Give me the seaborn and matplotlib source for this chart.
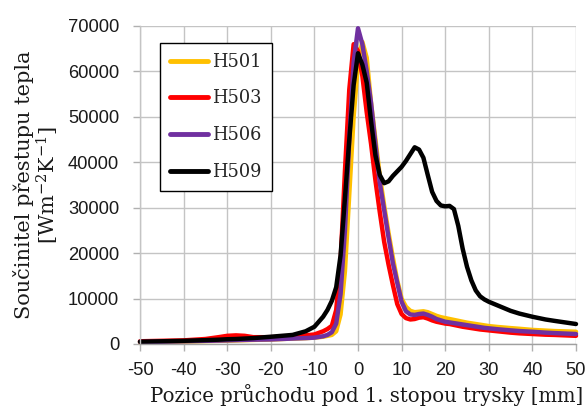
import numpy as np
import pandas as pd
import matplotlib
matplotlib.use("Agg")
import matplotlib.pyplot as plt
import seaborn as sns

# ---- data ----
x_mm = [-50, -45, -40, -35, -32, -30, -28, -26, -24, -20,
        -15, -12, -10, -8, -7, -6, -5, -4, -3, -2,
        -1, 0, 1, 2, 3, 4, 5, 6, 7, 8,
        9, 10, 11, 12, 13, 14, 15, 16, 17, 18,
        19, 20, 21, 22, 23, 24, 25, 26, 27, 28,
        29, 30, 32, 35, 37, 40, 43, 45, 50]

h501 = [400, 450, 550, 650, 700, 750, 800, 850, 900, 1000,
        1200, 1300, 1400, 1600, 1800, 2000, 2800, 6500, 16000, 33000,
        50000, 62000, 66500, 63000, 53000, 45000, 37000, 30500, 24500, 19000,
        14000, 10000, 8200, 7300, 7000, 7100, 7200, 7000, 6600, 6200,
        5900, 5700, 5500, 5300, 5100, 4900, 4700, 4550, 4400, 4250,
        4100, 3950, 3750, 3500, 3350, 3100, 2950, 2850, 2700]

h503 = [600, 700, 800, 1100, 1500, 1800, 1900, 1800, 1500, 1500,
        1600, 1900, 2100, 2800, 3300, 4000, 7500, 18000, 38000, 56000,
        66000, 64500, 59000, 51000, 44000, 36000, 29000, 22500, 17500, 13000,
        8800, 6600, 5700, 5400, 5500, 5800, 5900, 5600, 5200, 4900,
        4700, 4500, 4400, 4200, 4000, 3800, 3650, 3500, 3350, 3200,
        3100, 3000, 2800, 2500, 2350, 2200, 2050, 2000, 1800]

h506 = [450, 500, 600, 700, 750, 800, 850, 900, 950, 1000,
        1200, 1300, 1400, 1700, 2000, 2600, 4500, 11000, 25000, 45000,
        62000, 69500, 66000, 60000, 53000, 44000, 35500, 29500, 23500, 17800,
        13500, 9300, 7200, 6500, 6400, 6600, 6700, 6400, 6000, 5500,
        5200, 4900, 4750, 4600, 4450, 4300, 4150, 4000, 3850, 3700,
        3550, 3450, 3250, 3000, 2850, 2700, 2500, 2400, 2200]

h509 = [500, 600, 700, 850, 950, 1050, 1100, 1200, 1300, 1600,
        2000, 2800, 3800, 6000, 7500, 9500, 12500, 19500, 32000, 45000,
        57000, 64000, 61500, 57500, 49000, 41500, 37200, 35400, 35800, 37000,
        38000, 39000, 40300, 41800, 43300, 42800, 41000, 37200, 33500, 31500,
        30500, 30300, 30400, 29700, 26000, 21000, 17000, 14000, 11800, 10500,
        9800, 9300, 8500, 7300, 6700, 6000, 5400, 5100, 4400]

series_names = ["H501", "H503", "H506", "H509"]
series_values = [h501, h503, h506, h509]
series_colors = ["#FFC000", "#FF0000", "#7030A0", "#000000"]

x_ticks = list(range(-50, 51, 10))
y_ticks = list(range(0, 70001, 10000))

x_label = "Pozice průchodu pod 1. stopou trysky [mm]"
y_label = "Součinitel přestupu tepla\n[Wm$^{-2}$K$^{-1}$]"

df = pd.concat(
    [pd.DataFrame({"x": x_mm, "h": v, "series": n}) for n, v in zip(series_names, series_values)],
    ignore_index=True,
)

# ---- styling ----
sns.set_style("whitegrid")
plt.rcParams["font.family"] = ["Liberation Sans", "DejaVu Sans"]
plt.rcParams["axes.unicode_minus"] = False
plt.rcParams["mathtext.fontset"] = "dejavuserif"

W, H = 588, 407
fig = plt.figure(figsize=(W / 100, H / 100), dpi=100)
ax = fig.add_axes([140 / W, 1 - 344 / H, 436 / W, 318 / H])

sns.lineplot(
    data=df, x="x", y="h", hue="series",
    palette=dict(zip(series_names, series_colors)),
    hue_order=series_names, linewidth=3.2, sort=False, estimator=None, ax=ax,
)
for ln in ax.get_lines():
    ln.set_clip_on(False)
    ln.set_solid_joinstyle("round")

ax.set_xlim(-50, 50)
ax.set_ylim(0, 70000)
ax.set_xticks(x_ticks)
ax.set_yticks(y_ticks)
ax.set_xticklabels([str(t) for t in x_ticks])
ax.set_yticklabels([str(t) for t in y_ticks])

ax.grid(True, color="#c4c4c4", linewidth=1.0)
ax.set_axisbelow(True)
for s in ["top", "right"]:
    ax.spines[s].set_visible(False)
ax.spines["left"].set_color("#c4c4c4")
ax.spines["left"].set_linewidth(1.0)
ax.spines["bottom"].set_color("#a0a0a0")
ax.spines["bottom"].set_linewidth(1.0)

ax.tick_params(axis="both", direction="out", length=5, width=1,
               color="#b0b0b0", labelsize=13.2, labelcolor="#1a1a1a")
ax.tick_params(axis="y", pad=10, left=True)
ax.tick_params(axis="x", pad=8, bottom=True)

ax.set_xlabel(x_label, fontfamily="DejaVu Serif", fontsize=14.1, color="#1a1a1a")
ax.xaxis.set_label_coords((366.5 - 140) / 436, -(394.5 - 344) / 318)
ax.xaxis.label.set_va("center")
ax.set_ylabel(y_label, fontfamily="DejaVu Serif", fontsize=15, labelpad=5,
              color="#1a1a1a", linespacing=1.05)

leg = ax.legend(
    loc="upper left", bbox_to_anchor=((160 - 140) / 436, (344 - 43) / 318),
    borderaxespad=0, frameon=True, fancybox=False, edgecolor="black",
    prop={"family": "DejaVu Serif", "size": 12.8},
    handlelength=2.15, handletextpad=0.25, labelspacing=1.05, borderpad=0.55,
    title=None, framealpha=1,
)
leg.get_frame().set_linewidth(1.0)
for lh in leg.get_lines():
    lh.set_linewidth(3.5)

fig.savefig("out.png", dpi=100)
